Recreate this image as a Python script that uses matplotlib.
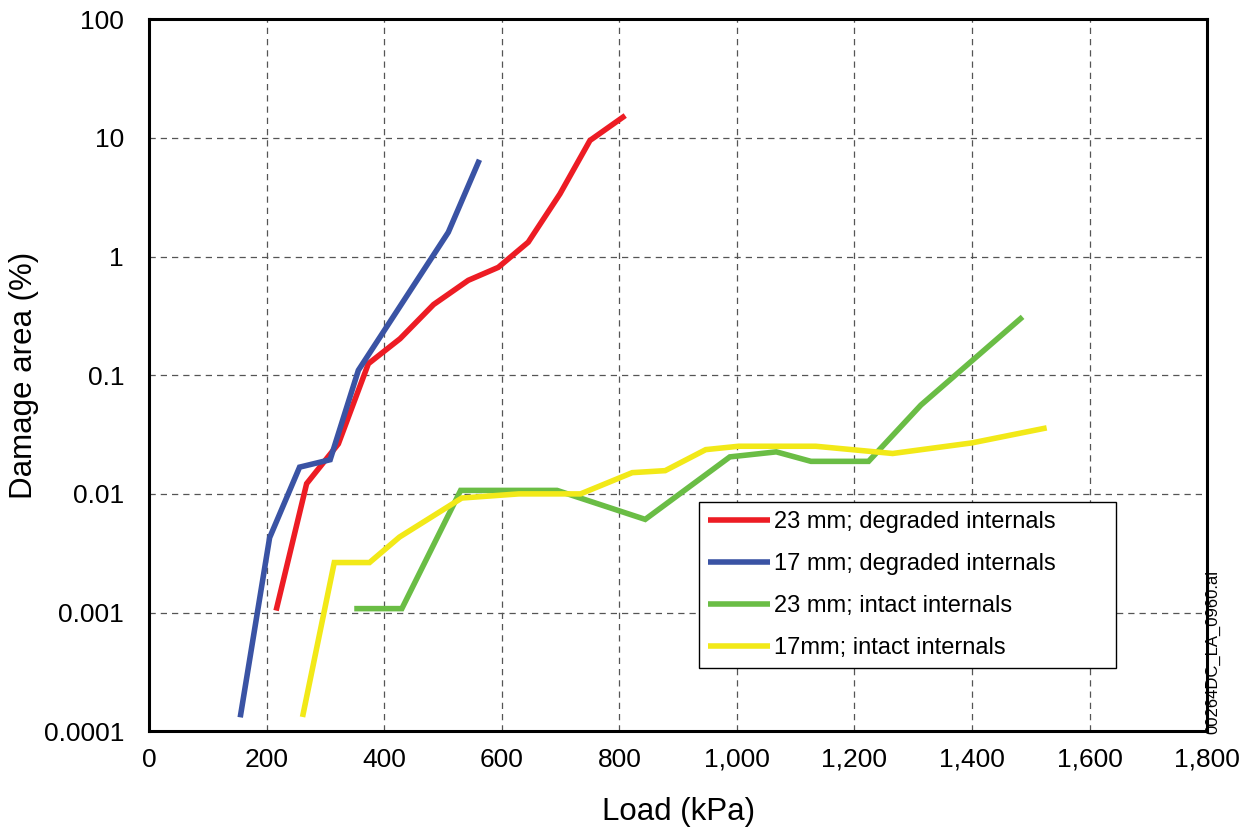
import numpy as np
import matplotlib
matplotlib.use('Agg')
from matplotlib import pyplot as plt
from matplotlib.ticker import FixedLocator, FixedFormatter

# load (kPa) vs damage area (%)
red_x = [216, 268, 322, 373, 427, 484, 543, 594, 645, 699, 750, 810]
red_y = [0.00104, 0.0122, 0.0264, 0.125, 0.203, 0.394, 0.63, 0.81, 1.32, 3.37, 9.5, 15.4]

blue_x = [155, 205, 256, 308, 356, 509, 562]
blue_y = [0.000131, 0.00427, 0.0168, 0.0194, 0.11, 1.60, 6.53]

green_x = [349, 430, 530, 694, 844, 988, 1067, 1126, 1224, 1313, 1486]
green_y = [0.00108, 0.00108, 0.0107, 0.0107, 0.0061, 0.0205, 0.0226, 0.0188, 0.0188, 0.056, 0.31]

yellow_x = [261, 315, 375, 426, 532, 629, 734, 822, 878, 947, 1003, 1134, 1265, 1400, 1527]
yellow_y = [0.000132, 0.00264, 0.00264, 0.00433, 0.00923, 0.0100, 0.0100, 0.0151, 0.0157,
            0.0236, 0.0252, 0.0252, 0.0219, 0.0269, 0.036]

labels = ['23 mm; degraded internals', '17 mm; degraded internals',
          '23 mm; intact internals', '17mm; intact internals']
colors = ['#ED1C24', '#3A53A4', '#6ABD45', '#F2E918']

x_ticks = [0, 200, 400, 600, 800, 1000, 1200, 1400, 1600, 1800]
x_ticklabels = ['0', '200', '400', '600', '800', '1,000', '1,200', '1,400', '1,600', '1,800']
y_ticks = [0.0001, 0.001, 0.01, 0.1, 1, 10, 100]
y_ticklabels = ['0.0001', '0.001', '0.01', '0.1', '1', '10', '100']

plt.rcParams['font.family'] = ['Liberation Sans', 'DejaVu Sans']

fig = plt.figure(figsize=(12.53, 8.31), dpi=100)
ax = fig.add_axes([0.119, 0.12, 0.8444, 0.857])

series = [(red_x, red_y), (blue_x, blue_y), (green_x, green_y), (yellow_x, yellow_y)]
for (xs, ys), c, lab in zip(series, colors, labels):
    ax.plot(xs, ys, color=c, lw=4.0, label=lab, solid_capstyle='butt', solid_joinstyle='miter')

ax.set_yscale('log')
ax.set_xlim(0, 1800)
ax.set_ylim(0.0001, 100)
ax.xaxis.set_major_locator(FixedLocator(x_ticks))
ax.xaxis.set_major_formatter(FixedFormatter(x_ticklabels))
ax.yaxis.set_major_locator(FixedLocator(y_ticks))
ax.yaxis.set_major_formatter(FixedFormatter(y_ticklabels))
ax.yaxis.set_minor_locator(FixedLocator([]))
ax.tick_params(axis='both', length=0, labelsize=19)
ax.tick_params(axis='y', pad=18)
ax.tick_params(axis='x', pad=12)

ax.grid(True, which='major', color='#555555', linestyle=(0, (5, 4)), linewidth=0.9)
ax.set_axisbelow(True)
for s in ax.spines.values():
    s.set_linewidth(2.2)
    s.set_color('black')

ax.set_xlabel('Load (kPa)', fontsize=22.5, labelpad=18)
ax.set_ylabel('Damage area (%)', fontsize=22.5, labelpad=3.5)

leg = ax.legend(loc='upper left', bbox_to_anchor=(0.520, 0.0, 0.394, 0.3216), mode='expand',
                fontsize=17, frameon=True, fancybox=False, borderpad=0.38, labelspacing=0.85,
                handlelength=2.6, handletextpad=0.2, borderaxespad=0)
leg.get_frame().set_edgecolor('black')
leg.get_frame().set_linewidth(1.0)
leg.get_frame().set_alpha(1)

fig.text(0.968, 0.216, '00264DC_LA_0960.ai', rotation=90, fontsize=12, ha='center', va='center')

fig.savefig('out.png', dpi=100, facecolor='white')
